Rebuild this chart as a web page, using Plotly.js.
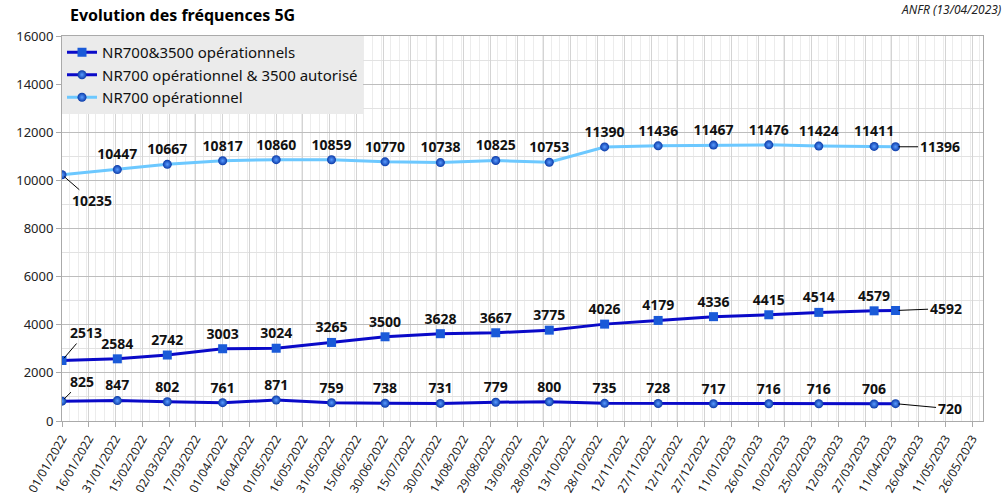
<!DOCTYPE html>
<html>
<head>
<meta charset="utf-8">
<script src="https://cdn.plot.ly/plotly-3.0.1.min.js"></script>
<style>
  html, body { margin: 0; padding: 0; background: #fff; }
  #plot { width: 1008px; height: 496px; }
</style>
</head>
<body>
<div id="plot"></div>
<script>
// monthly snapshots + the last one of 13/04/2023
const dates = ['2022-01-01', '2022-02-01', '2022-03-01', '2022-04-01', '2022-05-01', '2022-06-01',
    '2022-07-01', '2022-08-01', '2022-09-01', '2022-10-01', '2022-11-01', '2022-12-01',
    '2023-01-01', '2023-02-01', '2023-03-01', '2023-04-01', '2023-04-13'];

const nr700 = [10235, 10447, 10667, 10817, 10860, 10859, 10770, 10738, 10825, 10753,
    11390, 11436, 11467, 11476, 11424, 11411, 11396];
const nr700_3500 = [2513, 2584, 2742, 3003, 3024, 3265, 3500, 3628, 3667, 3775,
    4026, 4179, 4336, 4415, 4514, 4579, 4592];
const nr700Auth = [825, 847, 802, 761, 871, 759, 738, 731, 779, 800,
    735, 728, 717, 716, 716, 706, 720];

const names = ['NR700&3500 opérationnels', 'NR700 opérationnel & 3500 autorisé', 'NR700 opérationnel'];

const DAY = 86400000;
const labelFont = { family: 'Noto Sans, sans-serif', size: 14, color: '#111', weight: 'bold' };
const sphere = { type: 'radial', color: '#5a9cff' };

// first and last labels get a leader line, so leave them out of the trace text
function innerText(vals) {
    return vals.map((v, i) => (i === 0 || i === vals.length - 1) ? '' : String(v));
}

function makeTrace(vals, name, lineColor, symbol) {
    return {
        x: dates,
        y: vals,
        name: name,
        type: 'scatter',
        mode: 'lines+markers+text',
        text: innerText(vals),
        textposition: 'top center',
        textfont: labelFont,
        line: { color: lineColor, width: 3 },
        marker: {
            symbol: symbol,
            size: 9,
            color: symbol === 'square' ? '#1a5ad8' : '#0a3aa8',
            gradient: symbol === 'square' ? undefined : sphere,
            line: { width: 0 }
        },
        hoverinfo: 'x+y'
    };
}

const traces = [
    makeTrace(nr700_3500, names[0], '#0a0ac8', 'square'),
    makeTrace(nr700Auth, names[1], '#0a0ac8', 'circle'),
    makeTrace(nr700, names[2], '#6cc8ff', 'circle')
];

function leader(vals, i, ax, ay) {
    return {
        x: dates[i], y: vals[i], xref: 'x', yref: 'y',
        text: String(vals[i]),
        font: labelFont,
        showarrow: true, arrowhead: 0, arrowwidth: 1, arrowcolor: '#000',
        standoff: 3, ax: ax, ay: ay
    };
}

const last = dates.length - 1;
const annotations = [
    leader(nr700, 0, 30, 26),
    leader(nr700_3500, 0, 24, -28),
    leader(nr700Auth, 0, 20, -20),
    leader(nr700, last, 44, 0),
    leader(nr700_3500, last, 50, -2),
    leader(nr700Auth, last, 54, 5),
    {
        text: 'Evolution des fréquences 5G', xref: 'paper', yref: 'paper',
        x: 0.006, y: 1, yshift: 8, xanchor: 'left', yanchor: 'bottom', showarrow: false,
        font: { family: 'Noto Sans, sans-serif', size: 16, color: '#000', weight: 'bold' }
    },
    {
        text: '<i>ANFR (13/04/2023)</i>', xref: 'paper', yref: 'paper',
        x: 1, y: 1, xshift: 20, yshift: 16, xanchor: 'right', yanchor: 'bottom', showarrow: false,
        font: { family: 'Noto Sans, sans-serif', size: 12, color: '#222' }
    }
];

const layout = {
    width: 1008,
    height: 496,
    margin: { l: 62, r: 25, t: 36, b: 75 },
    paper_bgcolor: '#fff',
    plot_bgcolor: '#fff',
    font: { family: 'Noto Sans, sans-serif', size: 12, color: '#222' },
    showlegend: true,
    legend: {
        x: 0, y: 1, xanchor: 'left', yanchor: 'top',
        bgcolor: '#ebebeb',
        font: { size: 15, color: '#111' },
        tracegroupgap: 0,
        itemwidth: 30
    },
    xaxis: {
        type: 'date',
        range: ['2022-01-01', '2023-06-01'],
        tick0: '2022-01-01',
        dtick: 15 * DAY,
        tickformat: '%d/%m/%Y',
        tickangle: -60,
        ticks: 'outside', ticklen: 5, tickcolor: '#aaa',
        tickfont: { size: 12, color: '#222' },
        showline: true, linecolor: '#aaa', linewidth: 1, mirror: true,
        showgrid: true, gridcolor: '#d4d4d4',
        minor: { dtick: 5 * DAY, showgrid: true, gridcolor: '#ececec' },
        zeroline: false
    },
    yaxis: {
        range: [0, 16000],
        dtick: 2000,
        tickformat: 'd',
        ticks: 'outside', ticklen: 5, tickcolor: '#aaa',
        tickfont: { size: 13, color: '#222' },
        showline: true, linecolor: '#aaa', linewidth: 1, mirror: true,
        showgrid: true, gridcolor: '#bdbdbd',
        minor: { dtick: 1000, showgrid: true, gridcolor: '#e2e2e2' },
        zeroline: false
    },
    annotations: annotations
};

Plotly.newPlot('plot', traces, layout, { displayModeBar: false, staticPlot: true });
</script>
</body>
</html>
